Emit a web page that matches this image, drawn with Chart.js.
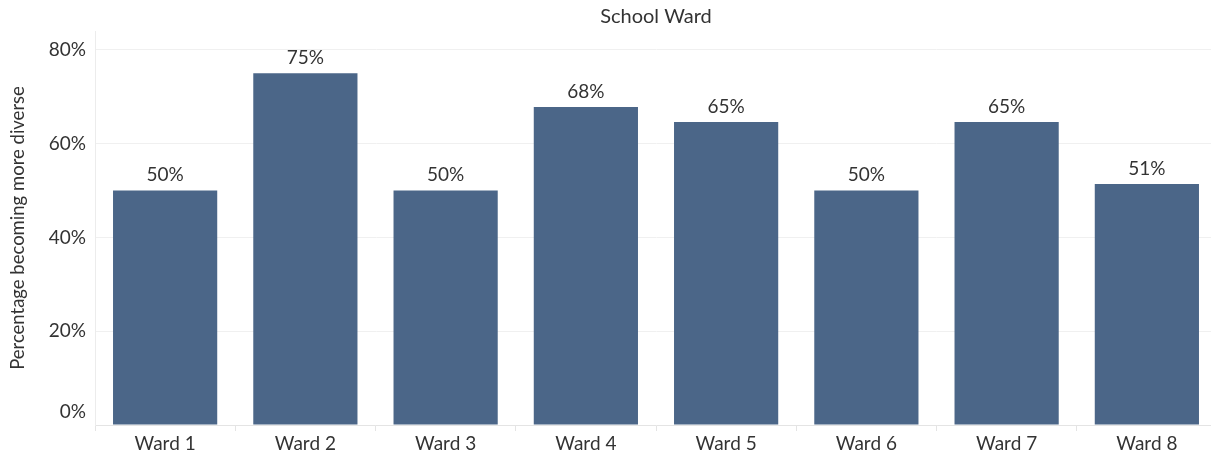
<!DOCTYPE html>
<html>
<head>
<meta charset="utf-8">
<script src="https://cdn.jsdelivr.net/npm/chart.js@4"></script>
<style>
  html, body { margin: 0; padding: 0; background: #fff; overflow: hidden; }
  #chartWrap { width: 1217px; height: 456px; }
</style>
</head>
<body>
<div id="chartWrap"><canvas id="chartBox"></canvas></div>
<script>
const wards = ["Ward 1", "Ward 2", "Ward 3", "Ward 4", "Ward 5", "Ward 6", "Ward 7", "Ward 8"];
const diverseShare = [50, 75, 50, 67.8, 64.6, 50, 64.6, 51.4];
const yTicks = [0, 20, 40, 60, 80];

const FONT = "Lato, 'Open Sans', sans-serif";
const TEXT = "#333333";

// value labels over the bars + the 0% tick sitting above the baseline
const extraText = {
  id: 'extraText',
  afterDatasetsDraw(chart) {
    const ctx = chart.ctx;
    const meta = chart.getDatasetMeta(0);
    ctx.save();
    ctx.font = "19px " + FONT;
    ctx.fillStyle = TEXT;
    ctx.textAlign = 'center';
    ctx.textBaseline = 'alphabetic';
    meta.data.forEach((bar, i) => {
      ctx.fillText(Math.round(diverseShare[i]) + '%', bar.x, bar.y - 9);
    });
    const y = chart.scales.y;
    ctx.textAlign = 'right';
    ctx.textBaseline = 'middle';
    ctx.fillText('0%', chart.chartArea.left - 9, y.getPixelForValue(0) - 13);
    ctx.restore();
  }
};

new Chart(document.querySelector('#chartBox').getContext('2d'), {
  type: 'bar',
  data: {
    labels: wards,
    datasets: [{
      label: 'Percentage becoming more diverse',
      data: diverseShare,
      backgroundColor: '#4b6688',
      categoryPercentage: 1,
      barPercentage: 0.743
    }]
  },
  options: {
    responsive: true,
    maintainAspectRatio: false,
    animation: false,
    layout: { padding: 0 },
    plugins: {
      legend: { display: false },
      tooltip: { enabled: false }
    },
    scales: {
      x: {
        position: 'bottom',
        grid: { display: true, drawOnChartArea: false, tickLength: 6, color: '#e4e4e4' },
        border: { display: true, color: '#e4e4e4' },
        ticks: { color: TEXT, font: { family: FONT, size: 19 }, padding: 1, maxRotation: 0 },
        afterFit: s => { s.height = 31; }
      },
      x2: {
        position: 'top',
        labels: wards,
        grid: { display: false },
        border: { display: false },
        ticks: { display: false },
        title: { display: true, text: 'School Ward', color: TEXT, font: { family: FONT, size: 20 }, padding: { top: 5, bottom: 0 } },
        afterFit: s => { s.height = 31; }
      },
      y: {
        min: 0,
        max: 84,
        afterBuildTicks: s => { s.ticks = yTicks.map(v => ({ value: v })); },
        grid: { color: '#f0f0f0', drawTicks: false },
        border: { display: true, color: '#ececec' },
        ticks: {
          color: TEXT,
          font: { family: FONT, size: 19 },
          padding: 9,
          callback: v => v === 0 ? '' : v + '%'
        },
        title: { display: true, text: 'Percentage becoming more diverse', color: TEXT, font: { family: FONT, size: 18.5 }, padding: { top: 7, bottom: 0 } },
        afterFit: s => { s.width = 95; }
      }
    }
  },
  plugins: [extraText]
});
</script>
</body>
</html>
